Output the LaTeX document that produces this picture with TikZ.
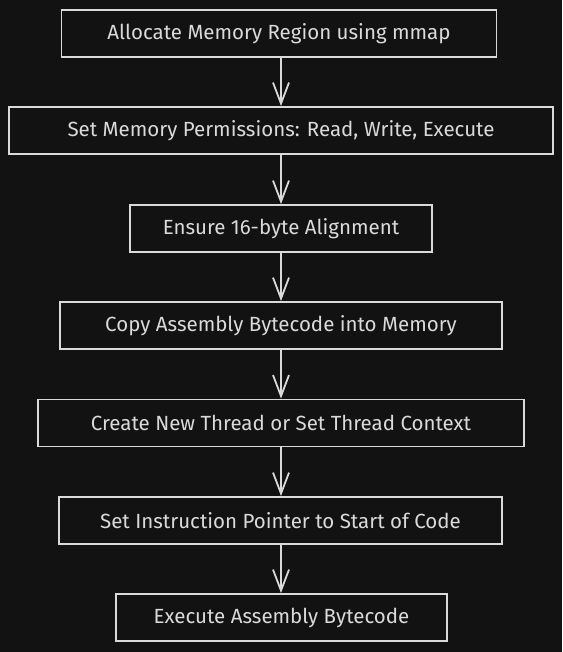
\documentclass[tikz,border=0pt]{standalone}
\usepackage{fontspec}
\setmainfont{Fira Sans}
\usetikzlibrary{arrows.meta}
\definecolor{bg}{HTML}{121212}
\definecolor{fg}{HTML}{DADADA}
\tikzset{
  box/.style={draw=fg, line width=1.8pt, text=fg, minimum height=47pt, inner sep=0pt, font=\fontsize{20.5}{24}\selectfont},
  flow/.style={draw=fg, line width=1.8pt, -{Straight Barb[length=21pt,width=16pt,line width=1.8pt]}}
}
\begin{document}
\begin{tikzpicture}[x=1pt,y=-1pt]
\useasboundingbox[fill=bg] (0,0) rectangle (562,652);
\node[box, minimum width=435pt] (a) at (279,33.5) {Allocate Memory Region using mmap};
\node[box, minimum width=544pt] (b) at (281,130.5) {Set Memory Permissions: Read, Write, Execute};
\node[box, minimum width=302pt] (c) at (281,228.5) {Ensure 16-byte Alignment};
\node[box, minimum width=442pt] (d) at (281,325.5) {Copy Assembly Bytecode into Memory};
\node[box, minimum width=486pt] (e) at (281,423) {Create New Thread or Set Thread Context};
\node[box, minimum width=443pt] (f) at (280.5,520.5) {Set Instruction Pointer to Start of Code};
\node[box, minimum width=331pt] (g) at (281.5,617.5) {Execute Assembly Bytecode};
\draw[flow] (a.south -| b.south) -- (b.north);
\draw[flow] (b.south) -- (c.north);
\draw[flow] (c.south) -- (d.north);
\draw[flow] (d.south) -- (e.north);
\draw[flow] (e.south) -- (f.north -| e.south);
\draw[flow] (f.south -| e.south) -- (g.north -| e.south);
\end{tikzpicture}
\end{document}
